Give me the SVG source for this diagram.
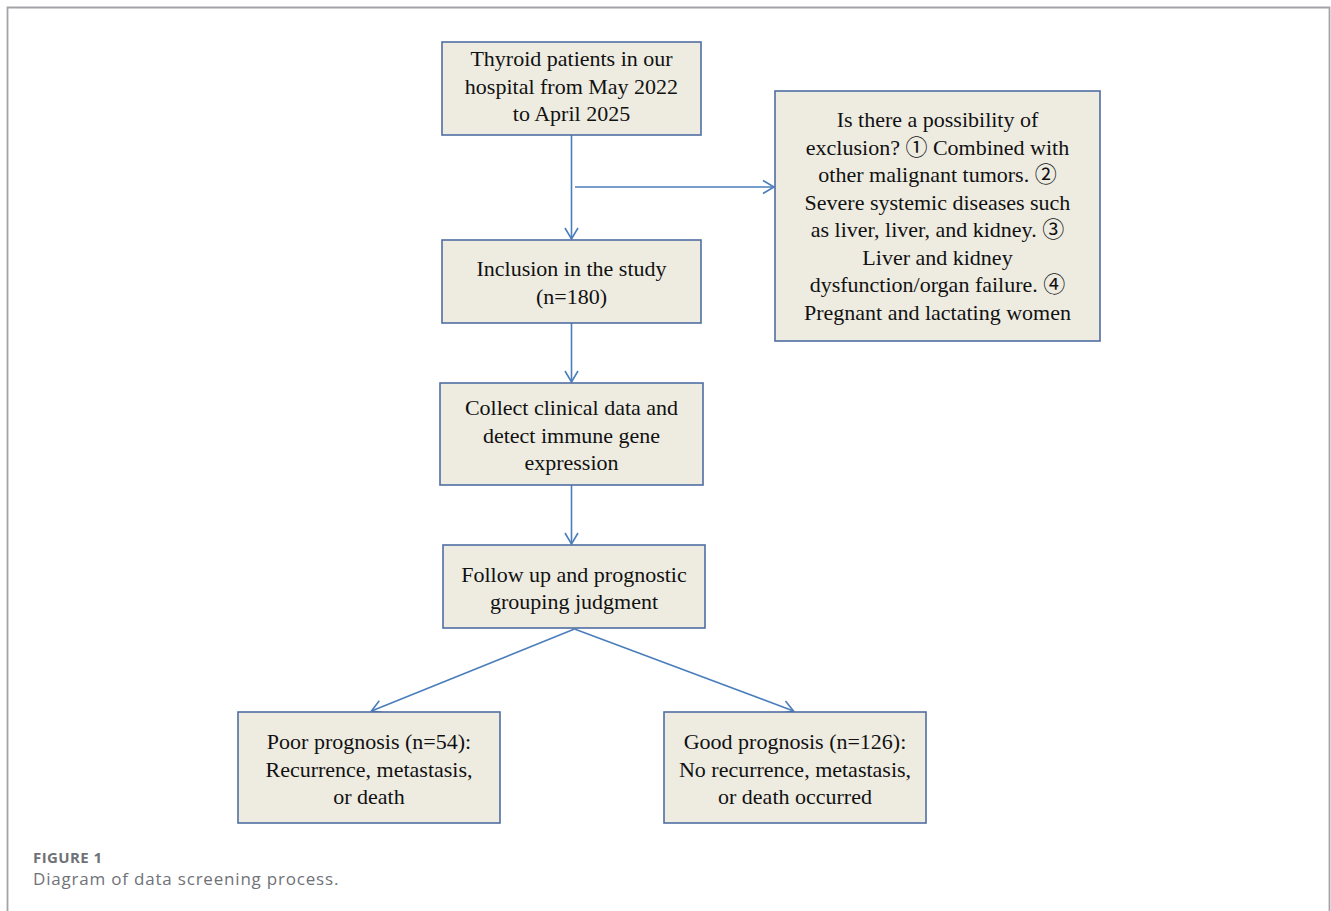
<svg xmlns="http://www.w3.org/2000/svg" width="1331" height="911" viewBox="0 0 1331 911">
<style>
.box{fill:#eeece1;stroke:#4f6fa3;stroke-width:1.6}
.t{font-family:"Liberation Serif","Noto Sans CJK SC",serif;font-size:22px;fill:#111;text-anchor:middle}
.c{fill:none;stroke:#4a7ebb;stroke-width:1.6;marker-end:url(#ah)}
.frame{fill:none;stroke:#a4a4a8;stroke-width:1.8}
.cap1{font-family:"Open Sans","Liberation Sans",sans-serif;font-size:15px;font-weight:bold;letter-spacing:0.4px;fill:#6f7278}
.cap2{font-family:"Open Sans","Liberation Sans",sans-serif;font-size:17px;letter-spacing:0.8px;fill:#6f7278}
</style>
<defs>
<marker id="ah" markerUnits="userSpaceOnUse" markerWidth="16" markerHeight="16" viewBox="-13 -8 16 16" refX="0" refY="0" orient="auto">
<path d="M-11,-6.5 L0,0 L-11,6.5" fill="none" stroke="#4a7ebb" stroke-width="1.6"/>
</marker>
</defs>
<rect width="1331" height="911" fill="#fff"/>
<path class="frame" d="M7.5,911 L7.5,7.5 L1329.5,7.5 L1329.5,911"/>

<g id="connectors">
<line class="c" x1="571.5" y1="135" x2="571.5" y2="239"/>
<line class="c" x1="575" y1="187" x2="774" y2="187"/>
<line class="c" x1="571.5" y1="323" x2="571.5" y2="382"/>
<line class="c" x1="571.5" y1="485" x2="571.5" y2="544"/>
<line class="c" x1="574.5" y1="629" x2="371.5" y2="711"/>
<line class="c" x1="574.5" y1="629" x2="793.5" y2="711"/>
</g>

<g id="n1">
<rect class="box" x="442" y="42" width="259" height="93"/>
<text class="t" x="571.5" y="66">Thyroid patients in our</text>
<text class="t" x="571.5" y="93.5">hospital from May 2022</text>
<text class="t" x="571.5" y="121">to April 2025</text>
</g>

<g id="n2">
<rect class="box" x="775" y="91" width="325" height="250"/>
<text class="t" x="937.5" y="127">Is there a possibility of</text>
<text class="t" x="937.5" y="154.5">exclusion? ① Combined with</text>
<text class="t" x="937.5" y="182">other malignant tumors. ②</text>
<text class="t" x="937.5" y="209.5">Severe systemic diseases such</text>
<text class="t" x="937.5" y="237">as liver, liver, and kidney. ③</text>
<text class="t" x="937.5" y="264.5">Liver and kidney</text>
<text class="t" x="937.5" y="292">dysfunction/organ failure. ④</text>
<text class="t" x="937.5" y="319.5">Pregnant and lactating women</text>
</g>

<g id="n3">
<rect class="box" x="442" y="240" width="259" height="83"/>
<text class="t" x="571.5" y="276">Inclusion in the study</text>
<text class="t" x="571.5" y="303.5">(n=180)</text>
</g>

<g id="n4">
<rect class="box" x="440" y="383" width="263" height="102"/>
<text class="t" x="571.5" y="415">Collect clinical data and</text>
<text class="t" x="571.5" y="442.5">detect immune gene</text>
<text class="t" x="571.5" y="470">expression</text>
</g>

<g id="n5">
<rect class="box" x="443" y="545" width="262" height="83"/>
<text class="t" x="574" y="581.5">Follow up and prognostic</text>
<text class="t" x="574" y="609">grouping judgment</text>
</g>

<g id="n6">
<rect class="box" x="238" y="712" width="262" height="111"/>
<text class="t" x="369" y="749">Poor prognosis (n=54):</text>
<text class="t" x="369" y="776.5">Recurrence, metastasis,</text>
<text class="t" x="369" y="804">or death</text>
</g>

<g id="n7">
<rect class="box" x="664" y="712" width="262" height="111"/>
<text class="t" x="795" y="749">Good prognosis (n=126):</text>
<text class="t" x="795" y="776.5">No recurrence, metastasis,</text>
<text class="t" x="795" y="804">or death occurred</text>
</g>

<g id="caption">
<text class="cap1" x="33" y="863">FIGURE 1</text>
<text class="cap2" x="33" y="885">Diagram of data screening process.</text>
</g>
</svg>
